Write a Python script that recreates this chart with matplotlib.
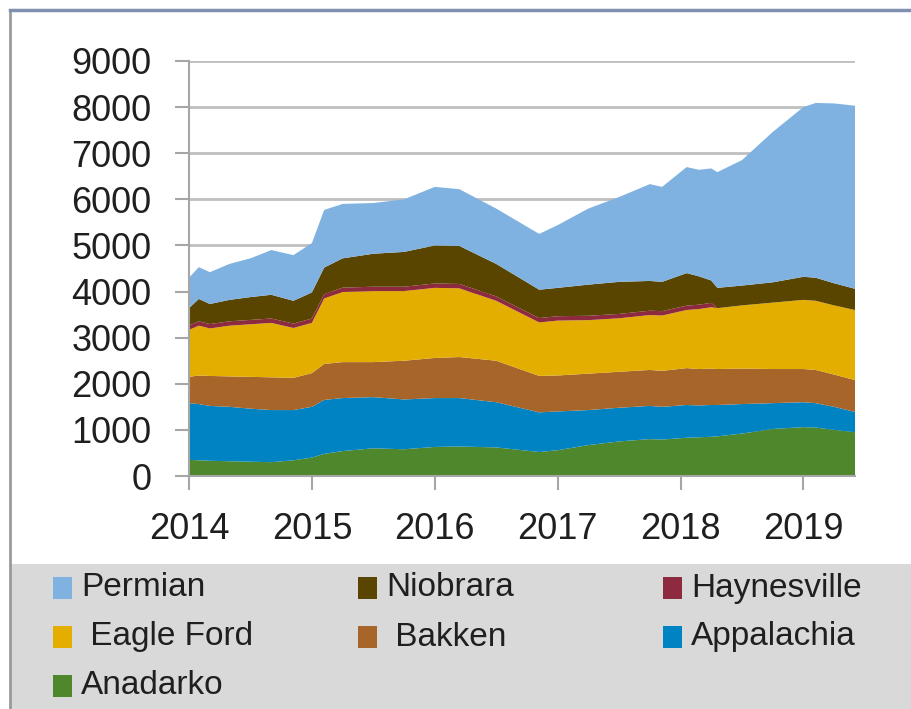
import matplotlib
matplotlib.use("Agg")
import matplotlib.pyplot as plt
from matplotlib.patches import Rectangle
from matplotlib.lines import Line2D

plt.rcParams["font.family"] = ["Liberation Sans", "DejaVu Sans"]

# 读图估计的数据 (千桶/日)
years = [2014.0, 2014.08, 2014.17, 2014.33, 2014.5, 2014.67, 2014.85, 2015.0,
         2015.1, 2015.25, 2015.5, 2015.75, 2016.0, 2016.2, 2016.5, 2016.85,
         2017.0, 2017.25, 2017.5, 2017.75, 2017.85, 2018.05, 2018.15, 2018.25,
         2018.3, 2018.5, 2018.75, 2019.0, 2019.1, 2019.25, 2019.42]

anadarko = [350, 340, 330, 320, 310, 300, 340, 400, 480, 540, 600, 580, 630, 640, 620, 520,
            560, 670, 750, 800, 790, 830, 840, 850, 860, 920, 1020, 1060, 1050, 1000, 950]
appalachia = [1230, 1220, 1190, 1180, 1150, 1130, 1090, 1100, 1170, 1150, 1110, 1080, 1060, 1050, 980, 860,
              840, 760, 730, 720, 710, 710, 690, 690, 680, 640, 560, 540, 530, 500, 440]
bakken = [570, 620, 650, 660, 690, 710, 700, 730, 780, 780, 760, 840, 870, 890, 900, 790,
          780, 790, 780, 780, 780, 800, 790, 790, 780, 770, 740, 720, 720, 700, 690]
eagle_ford = [1020, 1080, 1030, 1100, 1140, 1180, 1080, 1090, 1420, 1520, 1540, 1510, 1520, 1490, 1300, 1160,
              1190, 1160, 1160, 1190, 1200, 1260, 1300, 1330, 1320, 1370, 1440, 1500, 1500, 1500, 1520]
haynesville = [95, 95, 95, 95, 95, 95, 95, 95, 95, 95, 95, 95, 95, 95, 95, 95,
               95, 95, 95, 95, 95, 95, 95, 95, 0, 0, 0, 0, 0, 0, 0]
niobrara = [375, 485, 435, 465, 495, 515, 495, 565, 575, 635, 715, 755, 825, 825, 705, 615,
            615, 675, 695, 645, 635, 705, 615, 485, 440, 430, 440, 500, 500, 480, 460]
permian = [660, 690, 690, 780, 840, 970, 990, 1070, 1250, 1180, 1100, 1140, 1270, 1230, 1200, 1210,
           1360, 1650, 1840, 2100, 2060, 2300, 2310, 2430, 2510, 2720, 3260, 3680, 3790, 3900, 3970]

stack_names = ["Anadarko", "Appalachia", "Bakken", "Eagle Ford", "Haynesville", "Niobrara", "Permian"]
stack_values = [anadarko, appalachia, bakken, eagle_ford, haynesville, niobrara, permian]
colors = {
    "Permian": "#7FB2E0",
    "Niobrara": "#594400",
    "Haynesville": "#8E2A40",
    "Eagle Ford": "#E3AE00",
    "Bakken": "#A8652A",
    "Appalachia": "#0083C2",
    "Anadarko": "#4F872C",
}

# 图例顺序 (按行)
legend_rows = [["Permian", "Niobrara", "Haynesville"],
               [" Eagle Ford", " Bakken", "Appalachia"],
               ["Anadarko"]]

W, H = 911, 709
fig = plt.figure(figsize=(W / 100, H / 100), dpi=100)

# 灰色图例底 + 边框
fig.patches.append(Rectangle((10 / W, 0), 1, 1 - 564 / H, transform=fig.transFigure,
                             facecolor="#D9D9D9", edgecolor="none", zorder=0))
fig.lines.append(Line2D([10 / W, 10 / W], [0, 1 - 10 / H], transform=fig.transFigure,
                        color="#9A9A9A", linewidth=2))
fig.lines.append(Line2D([10 / W, 1], [1 - 10 / H, 1 - 10 / H], transform=fig.transFigure,
                        color="#8090B0", linewidth=2.5))

ax = fig.add_axes([189 / W, 1 - 476 / H, (855 - 189) / W, (476 - 61) / H])
ax.stackplot(years, stack_values, colors=[colors[n] for n in stack_names], linewidth=0)

ax.set_xlim(2014, 2019.42)
ax.set_ylim(0, 9000)
ax.set_yticks(range(0, 9001, 1000))
ax.set_xticks(range(2014, 2020))
ax.grid(axis="y", color="#BFBFBF", linewidth=2)
ax.set_axisbelow(True)
for side in ["top", "right"]:
    ax.spines[side].set_visible(False)
for side in ["left", "bottom"]:
    ax.spines[side].set_color("#A6A6A6")
    ax.spines[side].set_linewidth(1.5)
ax.tick_params(axis="both", direction="out", length=10, width=1.5, color="#A6A6A6",
               labelsize=26, labelcolor="#1F1F1F")
ax.tick_params(axis="y", pad=17)
ax.tick_params(axis="x", pad=16)

# 图例
col_x = [53, 358, 663]
row_y = [588, 637, 686]
for r, row in enumerate(legend_rows):
    for c, label in enumerate(row):
        name = label.strip()
        x0, y0 = col_x[c], row_y[r]
        fig.patches.append(Rectangle((x0 / W, 1 - (y0 + 11) / H), 19 / W, 22 / H,
                                     transform=fig.transFigure, facecolor=colors[name],
                                     edgecolor="none"))
        fig.text((x0 + 28) / W, 1 - y0 / H, label, fontsize=24, color="#1F1F1F",
                 va="center", ha="left")

fig.savefig("out.png", dpi=100)
